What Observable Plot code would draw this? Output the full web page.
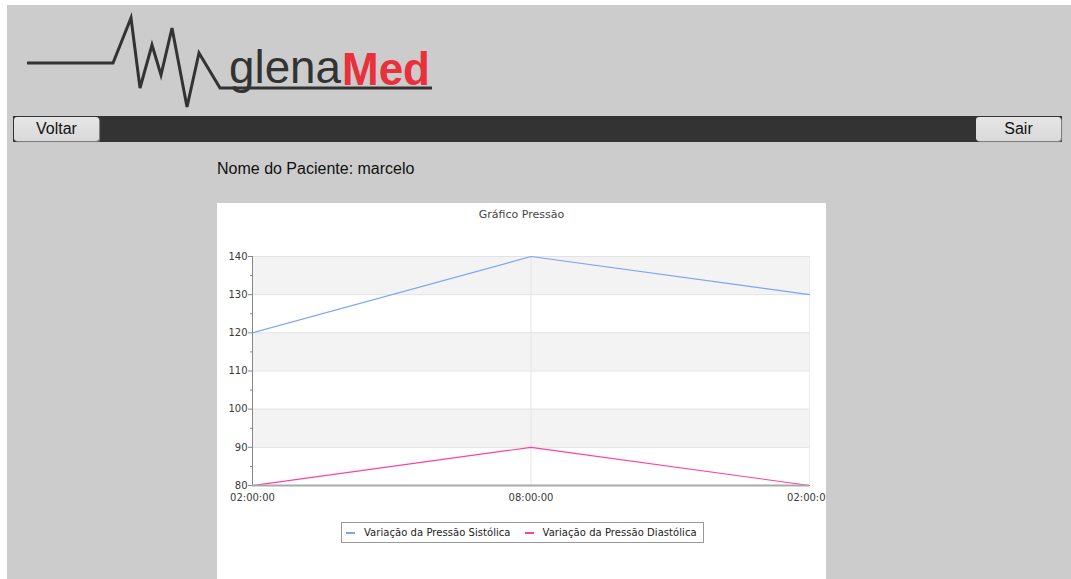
<!DOCTYPE html>
<html>
<head>
<meta charset="utf-8">
<script src="https://cdn.jsdelivr.net/npm/d3@7"></script>
<script src="https://cdn.jsdelivr.net/npm/@observablehq/plot@0.6"></script>
<style>
  html, body { margin: 0; padding: 0; background: #fff; width: 1071px; height: 579px; overflow: hidden; }
  #page { position: absolute; left: 7px; top: 5px; width: 1064px; height: 574px; background: #cccccc; font-family: "Liberation Sans", Arial, sans-serif; }
  #logo { position: absolute; left: -7px; top: -5px; }
  #bar { position: absolute; left: 6px; top: 111px; width: 1049px; height: 26px; background: #333333; }
  .btn { position: absolute; top: 112px; width: 85px; height: 24px; background: linear-gradient(#e6e6e6, #d9d9d9); border-radius: 3px; box-shadow: 1px 1px 1px #888; font-size: 16px; color: #111; text-align: center; line-height: 24px; }
  #nome { position: absolute; left: 210px; top: 155px; font-size: 16px; color: #111; }
  #chart { position: absolute; left: 210px; top: 198px; width: 609px; height: 376px; background: #fff; }
  #title { position: absolute; left: 0; top: 5px; width: 100%; text-align: center; font-family: "DejaVu Sans", sans-serif; font-size: 11px; color: #444; }
  #plot { position: absolute; left: 0; top: 22px; }
  #plot svg { overflow: hidden; }
  #legend { position: absolute; left: 124px; top: 319px; height: 19px; border: 1px solid #999; display: flex; align-items: center; padding: 0 6px 0 4px; font-family: "DejaVu Sans", sans-serif; font-size: 10px; letter-spacing: 0.05px; color: #222; white-space: nowrap; }
  .sw { display: inline-block; width: 9px; height: 2px; margin-right: 9px; }
  .item { display: flex; align-items: center; margin-right: 14px; }
</style>
</head>
<body>
<div id="page">
  <svg id="logo" width="450" height="115">
    <polyline points="27,63 113,63 131,18 140,88 152,45 161,75 172,28 187,107 199,53 220,88 432,88" fill="none" stroke="#333" stroke-width="3" stroke-linejoin="miter"/>
    <text x="229" y="83" font-family="Liberation Sans, Arial, sans-serif" font-size="47" fill="#333" textLength="112" lengthAdjust="spacingAndGlyphs">glena</text>
    <text x="342" y="85" font-family="Liberation Sans, Arial, sans-serif" font-size="46" font-weight="bold" fill="#e8313a" textLength="88" lengthAdjust="spacingAndGlyphs">Med</text>
  </svg>
  <div id="bar"></div>
  <div class="btn" style="left:7px">Voltar</div>
  <div class="btn" style="left:969px">Sair</div>
  <div id="nome">Nome do Paciente: marcelo</div>
  <div id="chart">
    <div id="title">Gráfico Pressão</div>
    <div id="plot"></div>
    <div id="legend"></div>
  </div>
</div>
<script>
const times = ["02:00:00", "08:00:00", "02:00:00"];
const sistolica = [120, 140, 130];
const diastolica = [80, 90, 80];
const seriesNames = ["Variação da Pressão Sistólica", "Variação da Pressão Diastólica"];
const seriesColors = ["#7ea4f2", "#ff3fa0"];
const yTicks = [80, 90, 100, 110, 120, 130, 140];
const yMinor = [85, 95, 105, 115, 125, 135];
const bands = [[130, 140], [110, 120], [90, 100]];

const idx = times.map((_, i) => i);
const sysData = idx.map(i => ({x: i, y: sistolica[i]}));
const diaData = idx.map(i => ({x: i, y: diastolica[i]}));

const chart = Plot.plot({
  width: 609,
  height: 290,
  marginLeft: 35,
  marginRight: 17,
  marginTop: 31,
  marginBottom: 30,
  style: {fontFamily: "DejaVu Sans, sans-serif", fontSize: "10px", color: "#444", background: "transparent"},
  x: {type: "linear", domain: [0, 2], axis: null},
  y: {domain: [80, 140], axis: null},
  marks: [
    Plot.rect(bands, {x1: 0, x2: 2, y1: d => d[0], y2: d => d[1], fill: "#f3f3f3"}),
    Plot.ruleY(yTicks.slice(1), {x1: 0, x2: 2, stroke: "#e2e2e2", strokeWidth: 1}),
    Plot.ruleX([1], {y1: 80, y2: 140, stroke: "#e6e6e6"}),
    Plot.ruleX([2], {y1: 80, y2: 140, stroke: "#ececec"}),
    Plot.line(sysData, {x: "x", y: "y", stroke: seriesColors[0], strokeWidth: 1.2}),
    Plot.line(diaData, {x: "x", y: "y", stroke: seriesColors[1], strokeWidth: 1.2}),
    Plot.ruleX([0], {y1: 80, y2: 140, stroke: "#888", strokeWidth: 1}),
    Plot.ruleY([80], {x1: 0, x2: 2, stroke: "#aaa", strokeWidth: 2}),
    Plot.axisY(yTicks, {tickSize: 4, stroke: "#888", text: null, label: null}),
    Plot.axisY(yMinor, {tickSize: 2, stroke: "#888", text: null, label: null}),
    Plot.text(yTicks, {x: 0, y: d => d, text: d => String(d), textAnchor: "end", dx: -5, fill: "#3a3a3a", fontSize: 10}),
    Plot.text(idx, {x: d => d, y: 80, text: d => times[d], dy: 12, fill: "#3a3a3a", fontSize: 10})
  ]
});
document.getElementById("plot").appendChild(chart);

const legend = document.getElementById("legend");
seriesNames.forEach((name, i) => {
  const item = document.createElement("div");
  item.className = "item";
  if (i === seriesNames.length - 1) item.style.marginRight = "0";
  const sw = document.createElement("span");
  sw.className = "sw";
  sw.style.background = seriesColors[i];
  item.appendChild(sw);
  item.appendChild(document.createTextNode(name));
  legend.appendChild(item);
});
</script>
</body>
</html>
